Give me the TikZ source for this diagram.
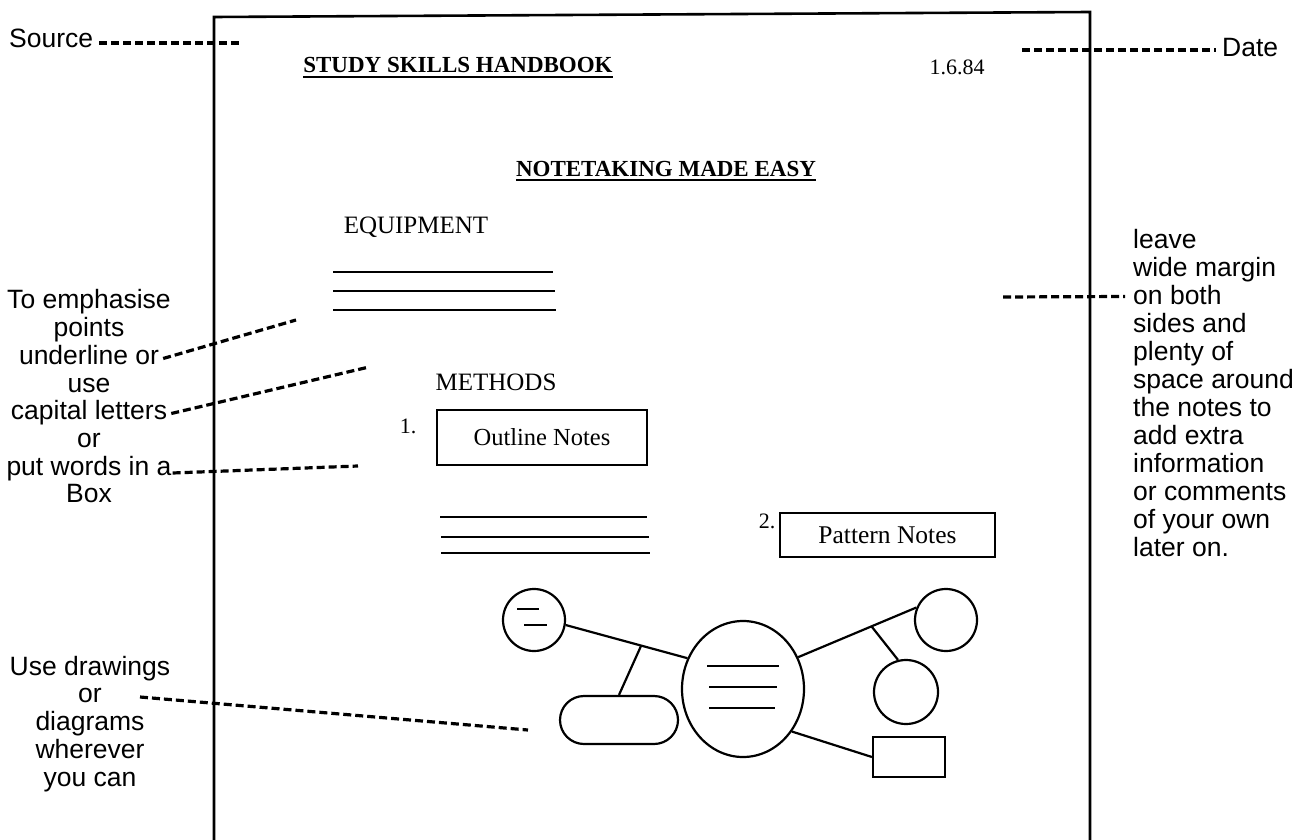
\documentclass[tikz,border=0pt]{standalone}
\usepackage{fontspec}
\setmainfont{Liberation Serif}
\newfontfamily\hel{Liberation Sans}
\usetikzlibrary{shapes.geometric}
\tikzset{
  frameline/.style={line width=2.6pt},
  lead/.style={line width=3.2pt, dash pattern=on 8pt off 4pt},
  ink/.style={line width=2.2pt},
  side/.style={font=\hel\fontsize{26.5}{28}\selectfont, inner sep=0pt, anchor=base},
  sidel/.style={side, anchor=base west},
  titlef/.style={font=\bfseries\fontsize{23}{26}\selectfont, inner sep=0pt, anchor=base},
  headf/.style={font=\fontsize{25}{28}\selectfont, inner sep=0pt, anchor=base},
  numf/.style={font=\fontsize{22}{26}\selectfont, inner sep=0pt, anchor=base},
  notebox/.style={draw, ink, inner sep=0pt},
  bub/.style={draw, ink, circle, inner sep=0pt},
}
\begin{document}
\begin{tikzpicture}[x=1pt,y=-1pt]
\fill[white] (0,0) rectangle (1306,840);
\useasboundingbox (0,0) rectangle (1306,840);
% page frame (bottom edge off the picture)
\draw[frameline] (214,842) -- (214,17) -- (1090,12) -- (1090,842);

% ---- page contents
\node[titlef] (hb) at (458,73) {STUDY SKILLS HANDBOOK};
\draw[ink] ([yshift=-4pt]hb.base west) -- ([yshift=-4pt]hb.base east);
\node[numf] (dt) at (957,75) {1.6.84};
\node[titlef] (nt) at (666,176) {NOTETAKING MADE EASY};
\draw[ink] ([yshift=-4pt]nt.base west) -- ([yshift=-4pt]nt.base east);
\node[headf] (eq) at (416,233) {EQUIPMENT};
\draw[ink] (333,272) -- (553,272);
\draw[ink] (333,291) -- (555,291);
\draw[ink] (333,310) -- (556,310);
\node[headf] (me) at (496,390) {METHODS};
\node[numf] (n1) at (408,433) {1.};
\node[notebox, minimum width=210pt, minimum height=55pt, font=\fontsize{24.5}{26}\selectfont] (on) at (542,437.5) {Outline Notes};
\draw[ink] (440,517) -- (647,517);
\draw[ink] (441,537) -- (649,537);
\draw[ink] (441,553) -- (650,553);
\node[numf] (n2) at (767,528) {2.};
\node[notebox, minimum width=215pt, minimum height=44pt, font=\fontsize{25.5}{26}\selectfont] (pn) at (887.5,535) {Pattern Notes};

% ---- pattern note diagram
\node[bub, minimum size=62pt] (sc) at (534,620) {};
\draw[ink] (517,609) -- (539,609);
\draw[ink] (524,625) -- (547,625);
\node[draw, ink, ellipse, minimum width=122pt, minimum height=136pt, inner sep=0pt] (big) at (743,689) {};
\draw[ink] (707,666) -- (779,666);
\draw[ink] (709,687) -- (777,687);
\draw[ink] (709,708) -- (775,708);
\node[draw, ink, rounded corners=24pt, minimum width=118pt, minimum height=48pt, inner sep=0pt] (pill) at (619,720) {};
\node[bub, minimum size=62pt] (tr) at (946,620) {};
\node[bub, minimum size=64pt] (mr) at (906,692) {};
\node[draw, ink, minimum width=72pt, minimum height=40pt, inner sep=0pt] (rb) at (909,757) {};
\draw[ink] (sc.-9) -- coordinate[pos=0.62] (b1) (big.151);
\draw[ink] (b1) -- (pill.north);
\draw[ink] (big.30) -- coordinate[pos=0.62] (b2) (tr.157);
\draw[ink] (b2) -- (mr.104);
\draw[ink] (big.-41) -- (rb.west);

% ---- left margin notes
\node[side, anchor=base west] (src) at (9,48) {Source};
\coordinate (srcend) at (239,43);
\draw[lead] ([xshift=6pt,yshift=5pt]src.base east) -- (srcend);

\node[side] (l1) at (89,308.5) {To emphasise};
\node[side] (l2) at (89,336.5) {points};
\node[side] (l3) at (89,364.5) {underline or};
\node[side] (l4) at (89,392) {use};
\node[side] (l5) at (89,419.5) {capital letters};
\node[side] (l6) at (89,447.5) {or};
\node[side] (l7) at (89,475) {put words in a};
\node[side] (l8) at (89,502.5) {Box};
\coordinate (e3) at (296,320);
\coordinate (e5) at (369,367);
\coordinate (e7) at (358,466);
\draw[lead] ([xshift=4pt,yshift=6pt]l3.base east) -- (e3);
\draw[lead] ([xshift=4pt,yshift=6pt]l5.base east) -- (e5);
\draw[lead] ([xshift=1pt,yshift=2pt]l7.base east) -- (e7);

\node[side] (d1) at (90,675.5) {Use drawings};
\node[side] (d2) at (90,702.5) {or};
\node[side] (d3) at (90,730.5) {diagrams};
\node[side] (d4) at (90,758.5) {wherever};
\node[side] (d5) at (90,786.5) {you can};
\coordinate (ds) at (140,697);
\coordinate (de) at (528,730);
\draw[lead] (ds) -- (de);

% ---- right margin notes
\node[sidel] (date) at (1222,57) {Date};
\coordinate (datestart) at (1022,50);
\draw[lead] (datestart) -- ([xshift=-6pt,yshift=7pt]date.base west);

\node[sidel] (r1) at (1133,248.5) {leave};
\node[sidel] (r2) at (1133,276.5) {wide margin};
\node[sidel] (r3) at (1133,304.5) {on both};
\node[sidel] (r4) at (1133,332.5) {sides and};
\node[sidel] (r5) at (1133,360.5) {plenty of};
\node[sidel] (r6) at (1133,388.5) {space around};
\node[sidel] (r7) at (1133,416.5) {the notes to};
\node[sidel] (r8) at (1133,444.5) {add extra};
\node[sidel] (r9) at (1133,472.5) {information};
\node[sidel] (r10) at (1133,500.5) {or comments};
\node[sidel] (r11) at (1133,528.5) {of your own};
\node[sidel] (r12) at (1133,556.5) {later on.};
\coordinate (ms) at (1003,297);
\draw[lead] (ms) -- ([xshift=-8pt,yshift=8pt]r3.base west);
\end{tikzpicture}
\end{document}
